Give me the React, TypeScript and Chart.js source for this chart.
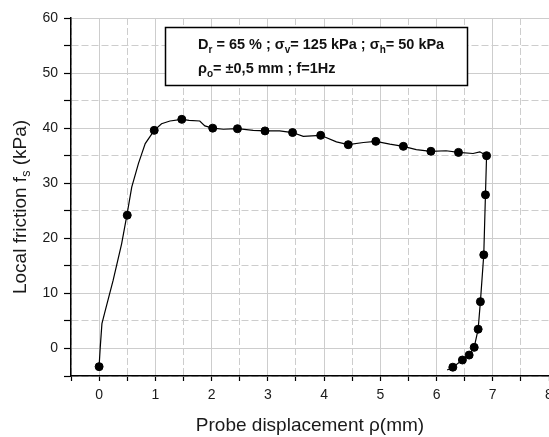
import React, { useEffect, useRef } from "react";
import { Chart, registerables } from "chart.js";

Chart.register(...registerables);

// ---- data ----
const curveX = [0, 0.02, 0.05, 0.11, 0.25, 0.4, 0.49, 0.58, 0.7, 0.82, 0.98, 1.11, 1.26, 1.47, 1.6, 1.79, 1.88, 2.02, 2.21, 2.46, 2.74, 2.95, 3.21, 3.44, 3.63, 3.94, 4.22, 4.43, 4.7, 4.92, 5.17, 5.41, 5.64, 5.9, 6.17, 6.39, 6.65, 6.77, 6.89, 6.87, 6.84, 6.78, 6.74, 6.67, 6.58, 6.46, 6.29, 6.19];
const curveY = [-3.2, 0.2, 4.5, 6.9, 12.4, 19.0, 24.0, 29.3, 33.6, 37.2, 39.6, 40.8, 41.3, 41.6, 41.4, 41.3, 40.4, 40.0, 39.8, 39.9, 39.6, 39.5, 39.5, 39.2, 38.5, 38.7, 37.5, 37.0, 37.4, 37.6, 37.1, 36.7, 36.1, 35.8, 35.9, 35.6, 35.4, 35.7, 35.0, 27.9, 17.0, 8.5, 3.5, 0.2, -1.2, -2.1, -3.4, -3.9];

const markerX = [0, 0.5, 0.98, 1.47, 2.02, 2.46, 2.95, 3.44, 3.94, 4.43, 4.92, 5.41, 5.9, 6.39, 6.89, 6.87, 6.84, 6.78, 6.74, 6.67, 6.58, 6.46, 6.29];
const markerY = [-3.3, 24.2, 39.6, 41.6, 40.0, 39.9, 39.5, 39.2, 38.7, 37.0, 37.6, 36.7, 35.8, 35.6, 35.0, 27.9, 17.0, 8.5, 3.5, 0.2, -1.2, -2.1, -3.4];

const xTicks = [-0.5, 0, 0.5, 1, 1.5, 2, 2.5, 3, 3.5, 4, 4.5, 5, 5.5, 6, 6.5, 7, 7.5, 8];
const yTicks = [-5, 0, 5, 10, 15, 20, 25, 30, 35, 40, 45, 50, 55, 60];

const xTitle = "Probe displacement ρ(mm)";
const yTitleParts = [
  { t: "Local friction f", sub: false },
  { t: "s", sub: true },
  { t: " (kPa)", sub: false },
];
const boxLine1 = [
  { t: "D", sub: false },
  { t: "r", sub: true },
  { t: " = 65 % ; σ", sub: false },
  { t: "v", sub: true },
  { t: "= 125 kPa ; σ", sub: false },
  { t: "h", sub: true },
  { t: "= 50 kPa", sub: false },
];
const boxLine2 = [
  { t: "ρ", sub: false },
  { t: "o", sub: true },
  { t: "= ±0,5 mm ; f=1Hz", sub: false },
];

const FONT = "'Liberation Sans', Arial, sans-serif";

type Part = { t: string; sub: boolean };

function drawParts(ctx: CanvasRenderingContext2D, parts: Part[], x: number, y: number, size: number, subSize: number, weight: string, center: boolean) {
  const widths = parts.map((p) => {
    ctx.font = `${weight} ${p.sub ? subSize : size}px ${FONT}`;
    return ctx.measureText(p.t).width;
  });
  const total = widths.reduce((a, b) => a + b, 0);
  let cx = center ? x - total / 2 : x;
  parts.forEach((p, i) => {
    ctx.font = `${weight} ${p.sub ? subSize : size}px ${FONT}`;
    ctx.fillText(p.t, cx, p.sub ? y + size * 0.28 : y);
    cx += widths[i];
  });
}

const overlayPlugin = {
  id: "overlay",
  afterDraw(chart: any) {
    const ctx: CanvasRenderingContext2D = chart.ctx;
    ctx.save();
    // y title
    ctx.fillStyle = "#1a1a1a";
    ctx.textBaseline = "middle";
    ctx.translate(21, 207);
    ctx.rotate(-Math.PI / 2);
    drawParts(ctx, yTitleParts, 0, 0, 19, 12.5, "normal", true);
    ctx.restore();

    // annotation box
    ctx.save();
    ctx.fillStyle = "#ffffff";
    ctx.fillRect(165, 27, 302, 58);
    ctx.strokeStyle = "#000";
    ctx.lineWidth = 1.5;
    ctx.strokeRect(165.5, 27.5, 302, 58);
    ctx.fillStyle = "#111";
    ctx.textBaseline = "alphabetic";
    drawParts(ctx, boxLine1, 198, 49, 14.5, 10, "bold", false);
    drawParts(ctx, boxLine2, 198, 73, 14.5, 10, "bold", false);
    ctx.restore();
  },
};

export default function App() {
  const ref = useRef<HTMLCanvasElement | null>(null);

  useEffect(() => {
    if (!ref.current) return;
    const minorX = (v: number) => Math.abs(v - Math.round(v)) > 1e-6;
    const minorY = (v: number) => Math.round(v) % 10 !== 0;
    const chart = new Chart(ref.current, {
      type: "scatter",
      data: {
        datasets: [
          {
            data: curveX.map((x, i) => ({ x, y: curveY[i] })),
            showLine: true,
            borderColor: "#000",
            borderWidth: 1.2,
            pointRadius: 0,
            tension: 0,
          },
          {
            data: markerX.map((x, i) => ({ x, y: markerY[i] })),
            showLine: false,
            backgroundColor: "#000",
            borderColor: "#000",
            pointRadius: 4,
          },
        ],
      },
      options: {
        animation: false,
        responsive: false,
        devicePixelRatio: 1,
        layout: { padding: { top: 18, right: 51, left: 0, bottom: 0 } },
        plugins: { legend: { display: false }, tooltip: { enabled: false } },
        scales: {
          x: {
            type: "linear",
            min: -0.5,
            max: 8,
            afterBuildTicks: (s: any) => {
              s.ticks = xTicks.map((v) => ({ value: v }));
            },
            afterFit: (s: any) => {
              s.height = 61;
            },
            ticks: {
              autoSkip: false,
              maxRotation: 0,
              padding: 6,
              color: "#1a1a1a",
              font: { size: 14, family: FONT },
              callback: (v: any) => (minorX(Number(v)) || Number(v) < 0 ? "" : String(v)),
            },
            grid: {
              color: "#cdcdcd",
              lineWidth: 1,
              tickLength: 5,
              tickColor: "#000",
              tickWidth: 1.2,
            },
            border: {
              color: "#000",
              width: 1.5,
              dash: (ctx: any) => (ctx.tick && minorX(ctx.tick.value) ? [7, 3] : []),
            },
            title: {
              display: true,
              text: xTitle,
              color: "#1a1a1a",
              font: { size: 19, family: FONT },
              padding: { top: 0, bottom: 0 },
            },
          },
          y: {
            type: "linear",
            min: -5,
            max: 60,
            afterBuildTicks: (s: any) => {
              s.ticks = yTicks.map((v) => ({ value: v }));
            },
            afterFit: (s: any) => {
              s.width = 71;
            },
            ticks: {
              autoSkip: false,
              padding: 6,
              color: "#1a1a1a",
              font: { size: 14, family: FONT },
              callback: (v: any) => (minorY(Number(v)) ? "" : String(v)),
            },
            grid: {
              color: "#cdcdcd",
              lineWidth: 1,
              tickLength: 7,
              tickColor: "#000",
              tickWidth: 1.2,
            },
            border: {
              color: "#000",
              width: 1.5,
              dash: (ctx: any) => (ctx.tick && minorY(ctx.tick.value) ? [7, 3] : []),
            },
          },
        },
      },
      plugins: [overlayPlugin],
    });
    return () => chart.destroy();
  }, []);

  return (
    <div style={{ position: "fixed", left: 0, top: 0, width: 549, height: 437, overflow: "hidden", background: "#fff" }}>
      <canvas ref={ref} width={600} height={437} style={{ width: 600, height: 437, display: "block" }} />
    </div>
  );
}
